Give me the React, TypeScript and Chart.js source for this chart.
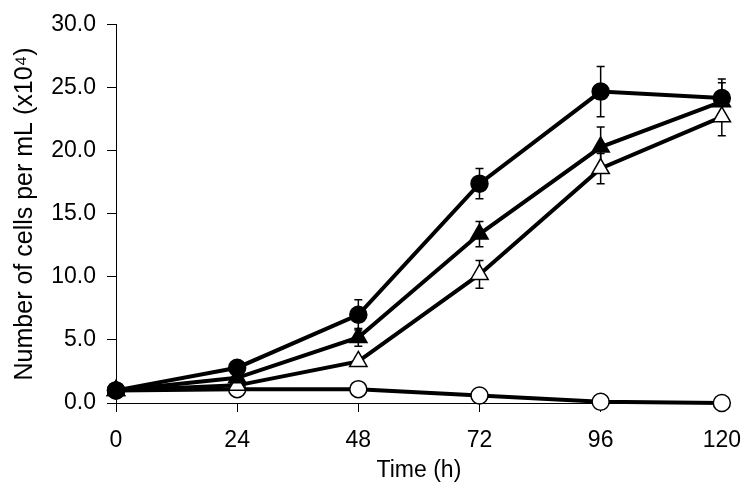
import React, { useEffect, useRef } from "react";
import { Chart, registerables } from "chart.js";

Chart.register(...registerables);

const timePoints = [0, 24, 48, 72, 96, 120];
const xTicks = [0, 24, 48, 72, 96, 120];

const filledCircle = [1.0, 2.8, 7.0, 17.4, 24.7, 24.2];
const filledCircleErr = [0.1, 0.2, 1.2, 1.2, 2.0, 1.5];

const filledTriangle = [1.0, 2.0, 5.2, 13.4, 20.3, 23.9];
const filledTriangleErr = [0.1, 0.2, 0.7, 1.0, 1.6, 1.5];

const openTriangle = [1.0, 1.4, 3.3, 10.2, 18.6, 22.7];
const openTriangleErr = [0.1, 0.1, 0.3, 1.1, 1.2, 1.5];

const openCircle = [1.0, 1.1, 1.1, 0.6, 0.1, 0.0];
const openCircleErr = [0.0, 0.0, 0.0, 0.0, 0.0, 0.0];

const FONT = "'Liberation Sans', Arial, sans-serif";

const errorBarPlugin = {
  id: "errorBars",
  beforeDatasetsDraw(chart: any) {
    const ctx = chart.ctx;
    const yScale = chart.scales.y;
    ctx.save();
    ctx.strokeStyle = "#000";
    ctx.lineWidth = 1.5;
    chart.data.datasets.forEach((ds: any, i: number) => {
      const meta = chart.getDatasetMeta(i);
      if (!ds.errors) return;
      meta.data.forEach((el: any, j: number) => {
        const err = ds.errors[j];
        if (!err) return;
        const v = ds.data[j].y;
        const x = el.x;
        const yTop = yScale.getPixelForValue(v + err);
        const yBot = yScale.getPixelForValue(v - err);
        const cap = 4;
        ctx.beginPath();
        ctx.moveTo(x, yTop);
        ctx.lineTo(x, yBot);
        ctx.moveTo(x - cap, yTop);
        ctx.lineTo(x + cap, yTop);
        ctx.moveTo(x - cap, yBot);
        ctx.lineTo(x + cap, yBot);
        ctx.stroke();
      });
    });
    ctx.restore();
  },
};

function toPoints(values: number[]) {
  return values.map((v, i) => ({ x: timePoints[i], y: v }));
}

export default function App() {
  const canvasRef = useRef<HTMLCanvasElement | null>(null);

  useEffect(() => {
    if (!canvasRef.current) return;
    const common = {
      borderColor: "#000",
      borderWidth: 4,
      pointBorderColor: "#000",
      pointBorderWidth: 1.5,
      clip: false as any,
      tension: 0,
    };
    const chart = new Chart(canvasRef.current, {
      type: "line",
      data: {
        datasets: [
          {
            ...common,
            label: "Filled circle",
            data: toPoints(filledCircle),
            errors: filledCircleErr,
            pointStyle: "circle",
            pointRadius: 8.5,
            pointBackgroundColor: "#000",
          } as any,
          {
            ...common,
            label: "Filled triangle",
            data: toPoints(filledTriangle),
            errors: filledTriangleErr,
            pointStyle: "triangle",
            pointRadius: 10,
            pointBackgroundColor: "#000",
          } as any,
          {
            ...common,
            label: "Open triangle",
            data: toPoints(openTriangle),
            errors: openTriangleErr,
            pointStyle: "triangle",
            pointRadius: 10,
            pointBackgroundColor: "#fff",
          } as any,
          {
            ...common,
            label: "Open circle",
            data: toPoints(openCircle),
            errors: openCircleErr,
            pointStyle: "circle",
            pointRadius: 8.5,
            pointBackgroundColor: "#fff",
          } as any,
        ],
      },
      options: {
        animation: false,
        responsive: false,
        maintainAspectRatio: false,
        layout: { padding: { left: 0, right: 25, top: 15, bottom: 0 } },
        plugins: {
          legend: { display: false },
          tooltip: { enabled: false },
        },
        scales: {
          x: {
            type: "linear",
            min: 0,
            max: 120,
            afterBuildTicks: (scale: any) => {
              scale.ticks = xTicks.map((v) => ({ value: v }));
            },
            afterFit: (scale: any) => {
              scale.height = 88;
            },
            ticks: {
              color: "#000",
              font: { family: FONT, size: 23 },
              padding: 15,
              maxRotation: 0,
            },
            grid: {
              display: true,
              drawOnChartArea: false,
              drawTicks: true,
              tickLength: 9,
              color: "#000",
              lineWidth: 1,
            },
            border: { display: true, color: "#000", width: 1 },
            title: {
              display: true,
              text: "Time (h)",
              color: "#000",
              font: { family: FONT, size: 23 },
              padding: { top: 0, bottom: 7 },
            },
          },
          y: {
            type: "linear",
            min: 0,
            max: 30,
            afterFit: (scale: any) => {
              scale.width = 116;
            },
            ticks: {
              stepSize: 5,
              color: "#000",
              font: { family: FONT, size: 23 },
              padding: 11,
              callback: (v: any) => Number(v).toFixed(1),
            },
            grid: {
              display: true,
              drawOnChartArea: false,
              drawTicks: true,
              tickLength: 9,
              color: "#000",
              lineWidth: 1,
            },
            border: { display: true, color: "#000", width: 1 },
            title: {
              display: true,
              text: "Number of cells per mL (x10\u2074)",
              color: "#000",
              font: { family: FONT, size: 25 },
              padding: { top: 10, bottom: 0 },
            },
          },
        },
      },
      plugins: [errorBarPlugin],
    });
    return () => {
      chart.destroy();
    };
  }, []);

  return (
    <div
      style={{
        position: "absolute",
        left: 0,
        top: 0,
        width: 756,
        height: 491,
        background: "#fff",
      }}
    >
      <canvas
        ref={canvasRef}
        width={756}
        height={491}
        style={{ width: 756, height: 491, display: "block" }}
      />
    </div>
  );
}
